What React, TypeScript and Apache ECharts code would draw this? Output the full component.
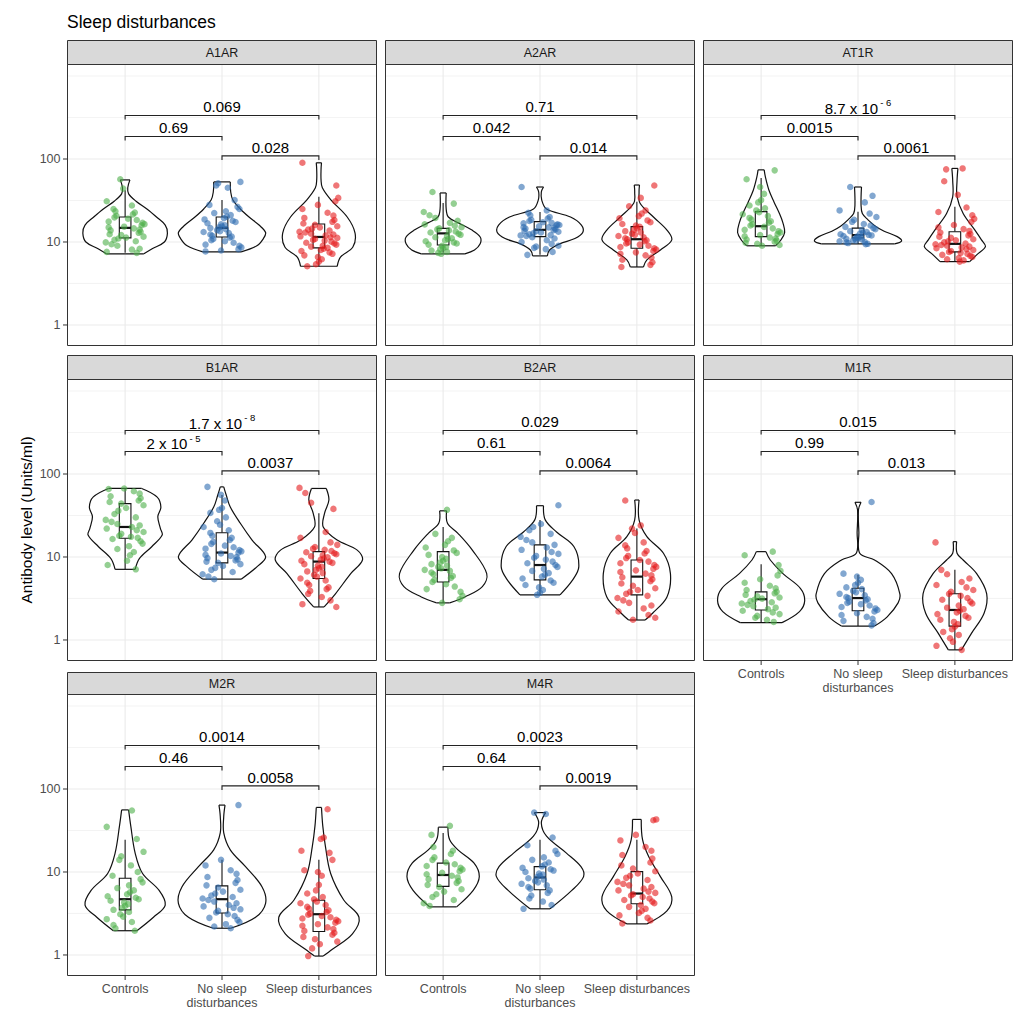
import React, { useEffect, useRef } from "react";
import * as echarts from "echarts";

// ---------------- data ----------------
const GROUPS = ["Controls", "No sleep\ndisturbances", "Sleep disturbances"];
const PANELS = ["A1AR", "A2AR", "AT1R", "B1AR", "B2AR", "M1R", "M2R", "M4R"];
const COLORS = ["#4DAF4A", "#2F6DB0", "#E41A1C"];
const Y_MAJOR = [1, 10, 100];
const Y_MINOR = [3.162, 31.62, 316.2, 1000];
const Y_MIN = 0.558;
const Y_MAX = 1396;
// bracket heights (data units): 2-3, 1-2, 1-3
const BRACKET_Y = [109, 187, 334];
const P12 = ["0.69", "0.042", "0.0015", "2 x 10^-5", "0.61", "0.99", "0.46", "0.64"];
const P23 = ["0.028", "0.014", "0.0061", "0.0037", "0.0064", "0.013", "0.0058", "0.0019"];
const P13 = ["0.069", "0.71", "8.7 x 10^-6", "1.7 x 10^-8", "0.029", "0.015", "0.0014", "0.0023"];

// jittered points (antibody levels, Units/ml)
const A1AR_C = [7.4, 7.6, 8.1, 8.3, 9.0, 9.4, 9.9, 10.2, 10.6, 11.0, 11.3, 11.6, 12.1, 12.4, 12.9, 13.3, 13.8, 14.1, 14.6, 15.0, 15.3, 15.9, 16.4, 17.0, 17.6, 18.4, 19.1, 19.8, 20.7, 21.5, 22.6, 23.4, 25.0, 27.5, 31.0, 44.0, 57.0];
const A1AR_N = [7.7, 7.9, 8.2, 8.6, 9.0, 9.3, 9.8, 10.2, 10.5, 10.9, 11.3, 11.6, 11.9, 12.3, 12.8, 13.2, 13.5, 13.9, 14.3, 14.7, 15.0, 15.4, 15.9, 16.3, 16.8, 17.4, 18.0, 18.7, 19.4, 20.2, 21.1, 22.3, 23.5, 25.0, 26.5, 28.0, 32.0, 45.0, 48.0, 51.0, 53.0];
const A1AR_S = [5.1, 5.4, 5.8, 6.2, 6.6, 6.9, 7.2, 7.5, 7.8, 8.0, 8.3, 8.5, 8.8, 9.0, 9.3, 9.6, 9.8, 10.1, 10.4, 10.6, 10.9, 11.2, 11.4, 11.7, 12.0, 12.3, 12.6, 13.0, 13.3, 13.7, 14.1, 14.5, 15.0, 15.5, 16.1, 16.7, 17.5, 18.4, 19.5, 20.8, 22.5, 25.0, 28.0, 31.0, 34.0, 48.0, 90.0];
const A2AR_C = [7.2, 7.4, 7.6, 7.9, 8.2, 8.4, 8.7, 9.0, 9.3, 9.6, 9.9, 10.2, 10.5, 10.8, 11.1, 11.4, 11.8, 12.2, 12.6, 13.0, 13.4, 13.8, 14.2, 14.6, 15.1, 15.7, 16.3, 17.0, 18.0, 19.5, 21.0, 23.0, 29.0, 40.0];
const A2AR_N = [7.0, 7.6, 8.2, 8.5, 8.8, 9.0, 9.5, 10.0, 10.5, 11.0, 11.4, 11.8, 12.0, 12.1, 12.4, 12.7, 13.0, 13.3, 13.5, 13.6, 13.9, 14.2, 14.5, 14.8, 15.0, 15.1, 15.5, 15.9, 16.0, 16.3, 16.8, 17.0, 17.3, 17.9, 18.5, 19.2, 20.0, 21.0, 22.5, 24.0, 46.0];
const A2AR_S = [5.0, 5.3, 5.7, 6.1, 6.5, 6.9, 7.2, 7.5, 7.8, 8.1, 8.4, 8.7, 9.0, 9.3, 9.6, 9.9, 10.2, 10.5, 10.8, 11.1, 11.4, 11.8, 12.2, 12.6, 13.0, 13.5, 14.0, 14.6, 15.2, 15.8, 16.5, 17.3, 18.2, 19.3, 20.5, 22.0, 24.0, 27.0, 34.0, 48.0];
const AT1R_C = [9.0, 9.2, 9.5, 9.8, 10.1, 10.4, 10.7, 11.0, 11.3, 11.7, 12.1, 12.5, 13.0, 13.5, 14.0, 14.6, 15.2, 15.8, 16.4, 17.1, 17.8, 18.6, 19.5, 20.5, 21.6, 22.8, 24.0, 25.5, 27.5, 30.0, 32.0, 38.0, 46.0, 57.0, 73.0];
const AT1R_N = [9.4, 9.5, 9.7, 9.9, 10.0, 10.2, 10.4, 10.5, 10.7, 10.9, 11.0, 11.2, 11.4, 11.6, 11.8, 12.0, 12.2, 12.4, 12.6, 12.9, 13.2, 13.5, 13.9, 14.3, 14.7, 15.2, 15.8, 16.5, 17.5, 18.5, 20.0, 22.0, 24.0, 30.0, 36.0, 46.0];
const AT1R_S = [5.8, 6.0, 6.2, 6.4, 6.6, 6.8, 7.0, 7.2, 7.4, 7.6, 7.8, 8.0, 8.2, 8.4, 8.6, 8.8, 9.0, 9.2, 9.4, 9.6, 9.9, 10.2, 10.5, 10.8, 11.2, 11.6, 12.0, 12.5, 13.0, 13.6, 14.3, 15.0, 16.0, 17.5, 19.0, 21.0, 23.0, 26.0, 37.0, 54.0, 75.0, 77.0];
const B1AR_C = [7.1, 8.0, 9.0, 10.5, 11.5, 12.5, 13.5, 14.5, 15.5, 16.5, 17.0, 17.5, 18.0, 19.0, 20.0, 21.0, 22.0, 23.0, 24.0, 25.0, 26.5, 28.0, 30.0, 33.0, 36.0, 39.0, 42.0, 44.0, 46.0, 48.0, 51.0, 54.0, 58.0, 62.0, 66.0, 67.0];
const B1AR_N = [5.4, 5.8, 6.2, 6.6, 7.0, 7.4, 7.8, 8.2, 8.5, 8.8, 9.1, 9.4, 9.7, 10.0, 10.3, 10.6, 11.0, 11.3, 11.7, 12.1, 12.6, 13.1, 13.7, 14.4, 15.2, 16.0, 17.0, 18.0, 19.5, 21.0, 23.0, 24.5, 27.0, 30.0, 34.0, 37.0, 39.0, 48.0, 56.0, 70.0];
const B1AR_S = [2.5, 2.7, 3.0, 3.3, 3.6, 3.9, 4.1, 4.3, 4.6, 4.9, 5.2, 5.5, 5.8, 6.1, 6.4, 6.7, 7.0, 7.3, 7.6, 7.9, 8.2, 8.5, 8.8, 9.0, 9.3, 9.6, 9.9, 10.2, 10.5, 10.8, 11.1, 11.4, 11.8, 12.2, 12.6, 13.2, 14.0, 15.0, 17.0, 20.0, 38.0, 45.0, 59.0, 68.0];
const B2AR_C = [2.8, 3.1, 3.4, 3.8, 4.1, 4.4, 4.7, 5.0, 5.3, 5.6, 5.9, 6.2, 6.5, 6.8, 7.0, 7.3, 7.6, 7.9, 8.2, 8.6, 9.0, 9.5, 10.0, 10.6, 11.2, 12.0, 13.0, 14.0, 15.5, 17.0, 19.0, 37.0];
const B2AR_N = [3.5, 3.7, 4.0, 4.3, 4.6, 4.9, 5.2, 5.5, 5.8, 6.1, 6.4, 6.8, 7.2, 7.6, 8.0, 8.4, 8.8, 9.3, 9.8, 10.3, 10.9, 11.5, 12.2, 13.0, 14.0, 15.0, 16.0, 17.5, 19.0, 21.0, 23.0, 25.0, 42.0];
const B2AR_S = [1.75, 1.85, 2.0, 2.2, 2.4, 2.6, 2.8, 3.0, 3.2, 3.4, 3.6, 3.8, 4.0, 4.2, 4.5, 4.8, 5.1, 5.4, 5.7, 6.0, 6.3, 6.6, 6.9, 7.2, 7.6, 8.0, 8.4, 8.8, 9.2, 9.7, 10.3, 11.0, 11.8, 12.7, 13.8, 15.0, 17.0, 19.5, 22.0, 24.0, 48.0];
const M1R_C = [1.65, 1.75, 1.85, 1.95, 2.05, 2.15, 2.25, 2.35, 2.45, 2.55, 2.65, 2.75, 2.85, 2.95, 3.05, 3.15, 3.25, 3.35, 3.5, 3.65, 3.8, 4.0, 4.2, 4.5, 4.9, 5.4, 6.0, 6.8, 8.0, 10.5, 11.6];
const M1R_N = [1.5, 1.6, 1.7, 1.8, 1.9, 2.0, 2.1, 2.2, 2.3, 2.4, 2.5, 2.6, 2.7, 2.8, 2.9, 3.0, 3.1, 3.2, 3.3, 3.45, 3.6, 3.75, 3.9, 4.1, 4.3, 4.6, 4.9, 5.3, 5.8, 6.3, 46.0];
const M1R_S = [0.76, 0.85, 0.95, 1.05, 1.15, 1.25, 1.35, 1.45, 1.55, 1.65, 1.75, 1.85, 1.95, 2.05, 2.15, 2.25, 2.35, 2.45, 2.6, 2.75, 2.9, 3.05, 3.2, 3.4, 3.6, 3.8, 4.0, 4.3, 4.6, 5.0, 5.5, 6.2, 7.0, 15.0];
const M2R_C = [1.96, 2.1, 2.3, 2.5, 2.7, 2.9, 3.1, 3.3, 3.5, 3.7, 3.9, 4.1, 4.3, 4.5, 4.7, 4.9, 5.1, 5.4, 5.7, 6.0, 6.4, 6.9, 7.5, 8.2, 9.0, 10.0, 12.0, 14.0, 15.5, 17.5, 25.0, 35.0, 55.0];
const M2R_N = [2.1, 2.2, 2.35, 2.5, 2.65, 2.8, 2.95, 3.1, 3.25, 3.4, 3.55, 3.7, 3.85, 4.0, 4.2, 4.4, 4.6, 4.8, 5.0, 5.2, 5.5, 5.8, 6.1, 6.5, 6.9, 7.4, 8.0, 8.7, 9.5, 10.5, 12.0, 14.0, 64.0];
const M2R_S = [0.97, 1.2, 1.35, 1.45, 1.55, 1.65, 1.75, 1.85, 1.95, 2.05, 2.15, 2.25, 2.35, 2.45, 2.55, 2.65, 2.75, 2.85, 2.95, 3.05, 3.15, 3.3, 3.45, 3.6, 3.8, 4.0, 4.2, 4.4, 4.7, 5.0, 5.5, 6.0, 7.0, 9.0, 10.0, 10.5, 14.0, 17.0, 18.0, 25.0, 26.0, 57.0];
const M4R_C = [3.9, 4.2, 4.6, 5.0, 5.4, 5.8, 6.2, 6.6, 7.0, 7.4, 7.8, 8.2, 8.6, 9.0, 9.4, 9.8, 10.2, 10.7, 11.2, 11.8, 12.4, 13.0, 14.0, 15.0, 16.5, 18.0, 20.0, 28.0, 36.0];
const M4R_N = [3.6, 4.0, 4.4, 4.8, 5.2, 5.6, 6.0, 6.3, 6.6, 6.9, 7.2, 7.5, 7.8, 8.1, 8.4, 8.7, 9.0, 9.3, 9.6, 10.0, 10.4, 10.8, 11.2, 11.7, 12.3, 13.0, 14.0, 15.0, 16.5, 18.0, 21.0, 26.0, 50.0, 52.0];
const M4R_S = [2.4, 2.6, 2.8, 3.0, 3.2, 3.4, 3.6, 3.8, 4.0, 4.2, 4.4, 4.6, 4.8, 5.0, 5.2, 5.4, 5.6, 5.8, 6.0, 6.3, 6.6, 6.9, 7.2, 7.6, 8.0, 8.5, 9.0, 9.6, 10.2, 11.0, 12.0, 13.0, 14.5, 16.0, 18.0, 20.0, 24.0, 28.0, 42.0, 43.0];

// violin outlines: [value, relative density width], from minimum to maximum
const A1AR_V = [
  [[7.2, 0.43], [8.3, 0.62], [10, 0.9], [12.8, 0.97], [16, 0.92], [20, 0.72], [25, 0.5], [31, 0.25], [38, 0.08], [45, 0.06], [56, 0.11]],
  [[7.6, 0.44], [9, 0.8], [11, 0.95], [13, 1.0], [16, 0.85], [20, 0.62], [25, 0.42], [32, 0.25], [40, 0.2], [53, 0.19]],
  [[5.1, 0.42], [6.6, 0.5], [8.7, 0.78], [12.8, 0.83], [20, 0.65], [32, 0.28], [45, 0.08], [56, 0.05], [75, 0.05], [90, 0.06]],
];
const A2AR_V = [
  [[7.2, 0.5], [8, 0.72], [9.5, 0.85], [11.5, 0.85], [14, 0.65], [17, 0.35], [20, 0.12], [25, 0.07], [39, 0.07]],
  [[6.8, 0.17], [8, 0.22], [9.5, 0.45], [11, 0.8], [13, 0.98], [16, 0.95], [20, 0.7], [25, 0.15], [32, 0.04], [40, 0.03], [46, 0.08]],
  [[5, 0.15], [6.1, 0.23], [8, 0.54], [10.6, 0.8], [13.9, 0.69], [20, 0.38], [29.5, 0.07], [40, 0.05], [48.6, 0.06]],
];
const AT1R_V = [
  [[9, 0.33], [10.5, 0.45], [13, 0.54], [17, 0.5], [22, 0.42], [30, 0.3], [42, 0.18], [60, 0.1], [74, 0.07]],
  [[9.5, 0.84], [10.3, 1.0], [11.6, 0.9], [13.5, 0.6], [15.5, 0.4], [18.5, 0.23], [22, 0.1], [28, 0.07], [46, 0.08]],
  [[5.8, 0.34], [7, 0.5], [8.8, 0.7], [10.6, 0.61], [13.9, 0.46], [22, 0.19], [35, 0.05], [55, 0.05], [77, 0.07]],
];
const B1AR_V = [
  [[7.1, 0.23], [9.6, 0.33], [13.3, 0.61], [18.4, 0.85], [22, 0.81], [30.6, 0.75], [40, 0.82], [53, 0.73], [67, 0.38]],
  [[5.4, 0.44], [7.6, 0.8], [10.1, 1.0], [16, 0.69], [25.5, 0.42], [40, 0.19], [55, 0.1], [70, 0.04]],
  [[2.5, 0.12], [3.6, 0.38], [6.3, 0.73], [9.2, 1.0], [12.1, 0.88], [16, 0.42], [23, 0.1], [33.6, 0.13], [48.6, 0.23], [67, 0.17]],
];
const B2AR_V = [
  [[2.8, 0.15], [3.3, 0.5], [4.4, 0.9], [6.3, 1.0], [12.1, 0.67], [19.3, 0.34], [25.5, 0.1], [36, 0.08]],
  [[3.5, 0.46], [5.3, 0.75], [7.6, 0.89], [13.3, 0.78], [20, 0.38], [28, 0.12], [41.5, 0.08]],
  [[1.74, 0.19], [2.1, 0.36], [3.3, 0.69], [6.3, 0.77], [11.1, 0.61], [17.6, 0.23], [28, 0.05], [48.6, 0.05]],
];
const M1R_V = [
  [[1.62, 0.48], [2.2, 0.88], [3.0, 1.0], [4.2, 0.9], [6.3, 0.5], [9.2, 0.21], [11.6, 0.11]],
  [[1.47, 0.38], [1.9, 0.67], [2.8, 0.92], [3.6, 0.96], [6.3, 0.77], [9.2, 0.38], [11.1, 0.04], [20, 0.02], [37, 0.01], [45.6, 0.07]],
  [[0.76, 0.15], [1.2, 0.38], [2.1, 0.67], [3.6, 0.73], [6.3, 0.5], [9.2, 0.19], [11.1, 0.05], [15.3, 0.04]],
];
const M2R_V = [
  [[1.96, 0.27], [2.85, 0.65], [4.0, 0.92], [6.0, 0.78], [9.6, 0.4], [16.9, 0.23], [35.7, 0.13], [56, 0.08]],
  [[2.1, 0.2], [2.85, 0.77], [4.2, 1.0], [6.6, 0.92], [11.6, 0.54], [18.5, 0.19], [29.6, 0.04], [47, 0.04], [64, 0.07]],
  [[0.97, 0.1], [1.17, 0.31], [1.8, 0.77], [2.85, 0.92], [4.6, 0.57], [9.6, 0.27], [20.4, 0.15], [35.7, 0.09], [60, 0.06]],
];
const M4R_V = [
  [[3.8, 0.31], [6, 0.69], [8.8, 0.83], [12.8, 0.71], [18.5, 0.34], [24.5, 0.15], [34.7, 0.11]],
  [[3.6, 0.23], [6, 0.73], [8.8, 1.0], [11.6, 0.94], [17, 0.6], [27, 0.15], [39, 0.03], [52, 0.13]],
  [[2.37, 0.23], [3.4, 0.69], [5, 0.8], [8.8, 0.54], [15.4, 0.27], [24.5, 0.13], [43, 0.1]],
];

// box plots: [lower whisker, Q1, median, Q3, upper whisker]
const A1AR_B = [[7.4, 11.2, 14.8, 20, 42], [7.8, 11.5, 14.8, 20, 32], [5.1, 8.5, 11.5, 16.5, 35]];
const A2AR_B = [[7.4, 9.2, 12.7, 14.6, 29.5], [7, 11.6, 14, 17.6, 23], [5.0, 8.4, 10.8, 15.3, 30.6]];
const AT1R_B = [[9, 11.6, 15.5, 23.2, 59], [9.5, 11.2, 12.1, 14.7, 23.2], [5.8, 7.6, 9.5, 13.3, 26.6]];
const B1AR_B = [[7.1, 16.8, 23, 44, 67], [5.4, 8.5, 11.3, 19.6, 56], [2.5, 5.5, 8.8, 11.6, 33.6]];
const B2AR_B = [[2.8, 5.0, 7.0, 11.6, 23], [3.5, 5.3, 8, 14, 28], [1.74, 3.5, 5.8, 9.2, 22]];
const M1R_B = [[1.62, 2.3, 3.1, 3.8, 8.2], [1.47, 2.25, 3.2, 4.2, 6.1], [0.76, 1.47, 2.3, 3.6, 7.0]];
const M2R_B = [[1.96, 3.5, 4.7, 8.4, 24.5], [2.1, 3.2, 4.7, 6.8, 14], [0.97, 1.92, 3.1, 4.56, 14]];
const M4R_B = [[3.8, 6.7, 9.2, 12.8, 29.6], [3.6, 6.1, 8.6, 11.6, 24.5], [2.37, 4.15, 5.5, 10.1, 24.5]];

// hand-typed jitter offsets (category units)
const JITTER = [0.12, -0.15, 0.03, -0.07, 0.18, -0.02, 0.09, -0.19, 0.14, -0.11, 0.01, 0.16, -0.05, -0.17, 0.07, 0.11, -0.09, 0.19, -0.13, 0.04, -0.01, 0.15, -0.18, 0.08, -0.04, 0.13, -0.12, 0.17, -0.08, 0.02, 0.1, -0.16, 0.06, -0.03, 0.2, -0.14, 0.05, -0.1, 0.14, -0.06, 0.0, 0.18, -0.2, 0.09, -0.12, 0.16, -0.04, 0.03, -0.17, 0.11, -0.08, 0.07, -0.15, 0.19, -0.01, 0.12, -0.11, 0.04, -0.19, 0.15];

const POINTS = [
  [A1AR_C, A1AR_N, A1AR_S], [A2AR_C, A2AR_N, A2AR_S], [AT1R_C, AT1R_N, AT1R_S],
  [B1AR_C, B1AR_N, B1AR_S], [B2AR_C, B2AR_N, B2AR_S], [M1R_C, M1R_N, M1R_S],
  [M2R_C, M2R_N, M2R_S], [M4R_C, M4R_N, M4R_S],
];
const VIOLINS = [A1AR_V, A2AR_V, AT1R_V, B1AR_V, B2AR_V, M1R_V, M2R_V, M4R_V];
const BOXES = [A1AR_B, A2AR_B, AT1R_B, B1AR_B, B2AR_B, M1R_B, M2R_B, M4R_B];

// ---------------- layout / style ----------------
const FONT = '"Liberation Sans", Arial, Helvetica, sans-serif';
const COL_X = [67, 385, 703];
const ROW_Y = [64, 379, 694];
const STRIP_H = [24, 24, 22];
const PW = 310;
const PH = 282;
const VIOLIN_HALF = 0.45;
const BOX_HALF = 0.06;

let measureCtx: any = null;
function textWidth(s: string, size: number) {
  if (!measureCtx) measureCtx = document.createElement("canvas").getContext("2d");
  measureCtx.font = `${size}px "Liberation Sans", Arial, sans-serif`;
  return measureCtx.measureText(s).width;
}

function txt(text: string, x: number, y: number, size: number, fill: string, align: string, valign: string, extra: any = {}) {
  return {
    type: "text",
    x,
    y,
    silent: true,
    style: {
      text,
      fill,
      fontSize: size,
      fontFamily: FONT,
      align,
      textAlign: align,
      verticalAlign: valign,
      textVerticalAlign: valign,
      ...extra,
    },
  };
}

function buildOption() {
  const grid: any[] = [];
  const xAxis: any[] = [];
  const yAxis: any[] = [];
  const series: any[] = [];
  const graphic: any[] = [];

  PANELS.forEach((name, i) => {
    const c = i % 3;
    const r = Math.floor(i / 3);
    const left = COL_X[c];
    const top = ROW_Y[r];
    const showY = c === 0;
    const showX = i >= 5;

    grid.push({ left, top, width: PW, height: PH, show: false, containLabel: false });
    xAxis.push({ type: "value", gridIndex: i, min: -0.6, max: 2.6, show: false });
    yAxis.push({ type: "log", logBase: 10, gridIndex: i, min: Y_MIN, max: Y_MAX, show: false });

    // grid lines, ticks and tick labels
    const decorData = [
      ...Y_MAJOR.map((v) => [0, v, 0]),
      ...Y_MINOR.map((v) => [0, v, 1]),
      ...[0, 1, 2].map((g) => [g, 1, 2]),
    ];
    series.push({
      type: "custom",
      xAxisIndex: i,
      yAxisIndex: i,
      z: 1,
      silent: true,
      data: decorData,
      renderItem: (params: any, api: any) => {
        const cs = params.coordSys;
        const kind = api.value(2);
        const children: any[] = [];
        if (kind === 2) {
          const g = api.value(0);
          const x = api.coord([g, 1])[0];
          children.push({ type: "line", shape: { x1: x, y1: cs.y, x2: x, y2: cs.y + cs.height }, style: { stroke: "#EBEBEB", lineWidth: 1.1 } });
          if (showX) {
            const yb = cs.y + cs.height;
            children.push({ type: "line", shape: { x1: x, y1: yb, x2: x, y2: yb + 4 }, style: { stroke: "#333333", lineWidth: 1 } });
            children.push(txt(GROUPS[g], x, yb + 5.5, 12.5, "#4D4D4D", "center", "top", { lineHeight: 14 }));
          }
        } else {
          const v = api.value(1);
          const y = api.coord([0, v])[1];
          children.push({
            type: "line",
            shape: { x1: cs.x, y1: y, x2: cs.x + cs.width, y2: y },
            style: { stroke: kind === 0 ? "#EBEBEB" : "#F0F0F0", lineWidth: kind === 0 ? 1.1 : 0.8 },
          });
          if (kind === 0 && showY) {
            children.push({ type: "line", shape: { x1: cs.x - 4, y1: y, x2: cs.x, y2: y }, style: { stroke: "#333333", lineWidth: 1 } });
            children.push(txt(String(v), cs.x - 6.5, y, 12.5, "#4D4D4D", "right", "middle"));
          }
        }
        return { type: "group", children };
      },
    });

    // violins
    series.push({
      type: "custom",
      xAxisIndex: i,
      yAxisIndex: i,
      z: 2,
      silent: true,
      data: [0, 1, 2].map((g) => [g, VIOLINS[i][g][0][0]]),
      renderItem: (params: any, api: any) => {
        const g = api.value(0);
        const prof = VIOLINS[i][g];
        const right = prof.map(([v, w]: number[]) => api.coord([g + w * VIOLIN_HALF, v]));
        const leftSide = prof.map(([v, w]: number[]) => api.coord([g - w * VIOLIN_HALF, v]));
        const n = prof.length - 1;
        const st = { stroke: "#111111", lineWidth: 1.2, fill: null };
        return {
          type: "group",
          children: [
            { type: "polygon", shape: { points: right.concat(leftSide.slice().reverse()), smooth: 0.3 }, style: { fill: "#FFFFFF", stroke: null } },
            { type: "polyline", shape: { points: right, smooth: 0.35 }, style: st },
            { type: "polyline", shape: { points: leftSide, smooth: 0.35 }, style: st },
            { type: "line", shape: { x1: leftSide[0][0], y1: leftSide[0][1], x2: right[0][0], y2: right[0][1] }, style: st },
            { type: "line", shape: { x1: leftSide[n][0], y1: leftSide[n][1], x2: right[n][0], y2: right[n][1] }, style: st },
          ],
        };
      },
    });

    // boxes (drawn under points)
    series.push({
      type: "custom",
      xAxisIndex: i,
      yAxisIndex: i,
      z: 3,
      silent: true,
      data: BOXES[i].map((b, g) => [g, ...b]),
      renderItem: (params: any, api: any) => {
        const g = api.value(0);
        const lo = api.coord([g, api.value(1)]);
        const q1 = api.coord([g, api.value(2)]);
        const md = api.coord([g, api.value(3)]);
        const q3 = api.coord([g, api.value(4)]);
        const hi = api.coord([g, api.value(5)]);
        const xl = api.coord([g - BOX_HALF, 1])[0];
        const xr = api.coord([g + BOX_HALF, 1])[0];
        const st = { stroke: "#111111", lineWidth: 1.1 };
        return {
          type: "group",
          children: [
            { type: "line", shape: { x1: lo[0], y1: lo[1], x2: q1[0], y2: q1[1] }, style: st },
            { type: "line", shape: { x1: q3[0], y1: q3[1], x2: hi[0], y2: hi[1] }, style: st },
            { type: "rect", shape: { x: xl, y: q3[1], width: xr - xl, height: q1[1] - q3[1] }, style: { fill: "#FFFFFF", stroke: "#111111", lineWidth: 1.1 } },
            { type: "line", shape: { x1: xl, y1: md[1], x2: xr, y2: md[1] }, style: { stroke: "#111111", lineWidth: 2.2 } },
          ],
        };
      },
    });

    // jittered points
    [0, 1, 2].forEach((g) => {
      series.push({
        type: "scatter",
        xAxisIndex: i,
        yAxisIndex: i,
        z: 4,
        silent: true,
        symbol: "circle",
        symbolSize: 6.5,
        itemStyle: { color: COLORS[g], opacity: 0.6 },
        data: POINTS[i][g].map((v, k) => [g + JITTER[(k * 7 + g * 13 + i * 5) % JITTER.length], v]),
      });
    });

    // significance brackets
    const labels = [P23[i], P12[i], P13[i]];
    series.push({
      type: "custom",
      xAxisIndex: i,
      yAxisIndex: i,
      z: 5,
      silent: true,
      data: [
        [1, 2, BRACKET_Y[0], 0],
        [0, 1, BRACKET_Y[1], 1],
        [0, 2, BRACKET_Y[2], 2],
      ],
      renderItem: (params: any, api: any) => {
        const a = api.coord([api.value(0), api.value(2)]);
        const b = api.coord([api.value(1), api.value(2)]);
        const y = a[1];
        const children: any[] = [
          {
            type: "polyline",
            shape: { points: [[a[0], y + 4], [a[0], y], [b[0], y], [b[0], y + 4]] },
            style: { stroke: "#222222", lineWidth: 1.1, fill: null },
          },
        ];
        const label = labels[api.value(3)];
        const cx = (a[0] + b[0]) / 2;
        const fs = 15;
        if (label.indexOf("^") >= 0) {
          const [base, exp] = label.split("^");
          const sup = exp.replace("-", "- ");
          const sfs = 9.5;
          const wb = textWidth(base, fs);
          const ws = textWidth(sup, sfs);
          const x0 = cx - (wb + 2 + ws) / 2;
          const baseLine = y - 2.3;
          children.push(txt(base, x0, baseLine - 0.3465 * fs, fs, "#000000", "left", "middle"));
          children.push(txt(sup, x0 + wb + 2, baseLine - 7.3 - 0.3465 * sfs, sfs, "#000000", "left", "middle"));
        } else {
          const baseLine = y - 3.5;
          children.push(txt(label, cx, baseLine - 0.3465 * fs, fs, "#000000", "center", "middle"));
        }
        return { type: "group", children };
      },
    });

    // strip and panel border
    const sh = STRIP_H[r];
    graphic.push({
      type: "rect",
      z: 100,
      silent: true,
      shape: { x: left + 0.5, y: top - sh + 0.5, width: PW - 1, height: sh },
      style: { fill: "#D9D9D9", stroke: "#333333", lineWidth: 1 },
    });
    graphic.push({ ...txt(name, left + PW / 2, top - sh / 2 + 0.5, 12.5, "#1A1A1A", "center", "middle"), z: 101 });
    graphic.push({
      type: "rect",
      z: 100,
      silent: true,
      shape: { x: left + 0.5, y: top + 0.5, width: PW - 1, height: PH - 1 },
      style: { fill: null, stroke: "#333333", lineWidth: 1 },
    });
  });

  graphic.push({ ...txt("Sleep disturbances", 67, 21.5, 17.5, "#000000", "left", "middle"), z: 101 });
  graphic.push({ ...txt("Antibody level (Units/ml)", 26, 520, 15.5, "#000000", "center", "middle"), rotation: Math.PI / 2, z: 101 });

  return {
    animation: false,
    backgroundColor: "#FFFFFF",
    grid,
    xAxis,
    yAxis,
    series,
    graphic,
  };
}

export default function App() {
  const ref = useRef<HTMLDivElement>(null);
  useEffect(() => {
    document.body.style.margin = "0";
    const chart = echarts.init(ref.current as HTMLDivElement, null, { renderer: "svg", width: 1018, height: 1010 });
    chart.setOption(buildOption() as any);
    return () => chart.dispose();
  }, []);
  return <div ref={ref} style={{ width: 1018, height: 1010 }} />;
}
